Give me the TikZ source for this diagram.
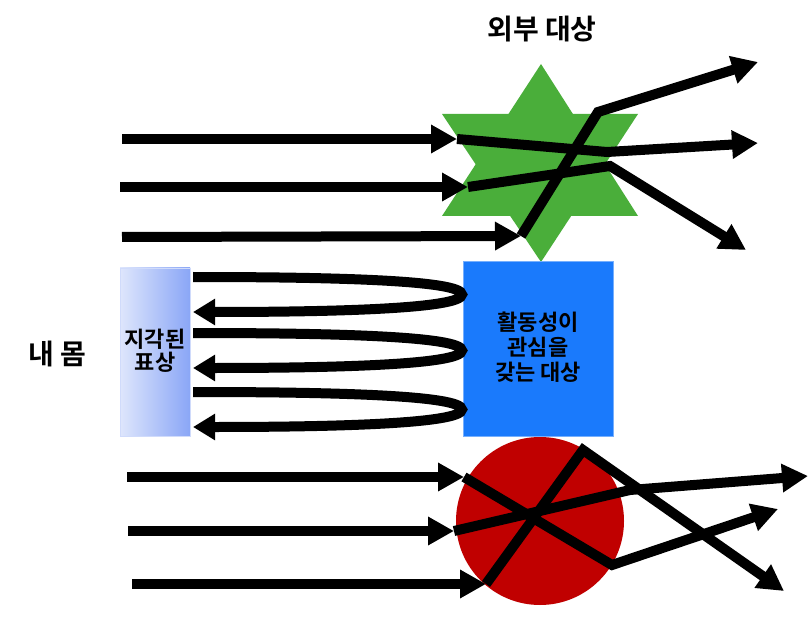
\documentclass[tikz,border=0pt]{standalone}
\usepackage{fontspec}
\setmainfont{Noto Sans CJK KR}[BoldFont={Noto Sans CJK KR Bold}]
\usetikzlibrary{arrows.meta}
\definecolor{stargreen}{RGB}{74,174,58}
\definecolor{boxblue}{RGB}{26,122,252}
\definecolor{ballred}{RGB}{192,0,0}
\definecolor{lightL}{RGB}{222,230,252}
\definecolor{lightR}{RGB}{138,166,246}
\tikzset{
  ray/.style={line width=10pt, line join=miter, -{Triangle[length=26pt,width=27pt]}},
  loopline/.style={line width=10pt, -{Triangle[length=22pt,width=25pt]}},
  lbl/.style={font=\bfseries, inner sep=0pt, align=center},
}
\begin{document}
\begin{tikzpicture}[x=1pt,y=-1pt]
\path[use as bounding box] (0,0) rectangle (808,644);
% star (hexagram)
\fill[stargreen] (541,64) -- (638,216) -- (442,216) -- cycle;
\fill[stargreen] (541,262) -- (638,114) -- (442,114) -- cycle;
% red ball
\fill[ballred] (540,521) circle (84);
% boxes
\node[draw=boxblue!60, fill=boxblue, minimum width=150pt, minimum height=175pt, inner sep=0pt] (obj) at (538,348.5) {};
\node[lbl, font=\bfseries\fontsize{22}{25}\selectfont] (objtxt) at (538,347) {활동성이\\관심을\\갖는 대상};
\node[draw=lightR!40, left color=lightL, right color=lightR, minimum width=70pt, minimum height=168pt, inner sep=0pt] (rep) at (155,352) {};
\node[lbl, font=\bfseries\fontsize{22}{23}\selectfont] (reptxt) at (155,351) {지각된\\표상};
% labels
\node[lbl, font=\bfseries\fontsize{28}{30}\selectfont] (ext) at (542,29) {외부 대상};
\node[lbl, font=\bfseries\fontsize{28}{30}\selectfont] (body) at (57,354) {내 몸};

% top rays
\coordinate (a1) at (122,139); \coordinate (b1) at (457,139); \coordinate (c1) at (607,152); \coordinate (d1) at (758,143);
\coordinate (a2) at (120,187); \coordinate (b2) at (468,187); \coordinate (c2) at (610,166); \coordinate (d2) at (746,250);
\coordinate (a3) at (122,237); \coordinate (b3) at (521,236); \coordinate (c3) at (598,112); \coordinate (d3) at (758,62);
\draw[ray] (a1) -- (b1);
\draw[ray] (b1) -- (c1) -- (d1);
\draw[ray] (a2) -- (b2);
\draw[ray] (b2) -- (c2) -- (d2);
\draw[ray] (a3) -- (b3);
\draw[ray] (b3) -- (c3) -- (d3);

% loops
\foreach \i/\yt/\yb in {1/277/312, 2/333/368, 3/392/427}{
  \coordinate (ls\i) at (193,\yt);
  \coordinate (le\i) at (193,\yb);
  \draw[loopline] (ls\i) .. controls (330,\yt) and (462,{\yt+3}) .. (462,{(\yt+\yb)/2})
     .. controls (462,{\yb-3}) and (330,\yb) .. (le\i);
}

% bottom rays
\coordinate (p1) at (127,477); \coordinate (q1) at (464,477); \coordinate (r1) at (612,565); \coordinate (s1) at (778,509);
\coordinate (p2) at (128,531); \coordinate (q2) at (454,531); \coordinate (r2) at (630,490); \coordinate (s2) at (808,476);
\coordinate (p3) at (132,584); \coordinate (q3) at (486,584); \coordinate (r3) at (583,450); \coordinate (s3) at (784,591);
\draw[ray] (p1) -- (q1);
\draw[ray] (q1) -- (r1) -- (s1);
\draw[ray] (p2) -- (q2);
\draw[ray] (q2) -- (r2) -- (s2);
\draw[ray] (p3) -- (q3);
\draw[ray] (q3) -- (r3) -- (s3);
\end{tikzpicture}
\end{document}
